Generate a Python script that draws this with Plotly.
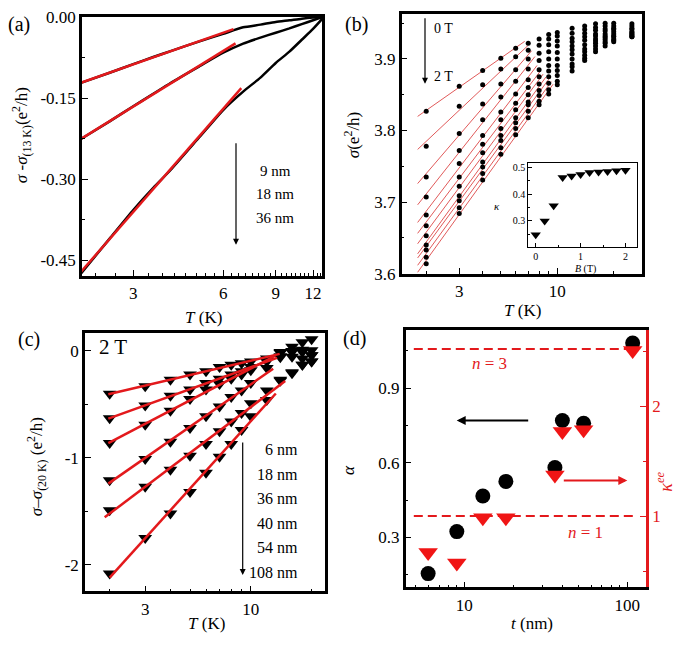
import numpy as np
import plotly.graph_objects as go

FONT = "Liberation Serif, Times New Roman, serif"
RED = "#e3191c"
W, H = 685, 647

# ---------------- Panel (a) ----------------
a_T = [2, 2.5, 3, 3.5, 4, 5, 6, 7, 8, 9, 10, 11, 12, 12.9]
a_9nm = [-0.122, -0.103, -0.087, -0.074, -0.063, -0.045, -0.031, -0.019, -0.014, -0.009, -0.006, -0.003, -0.001, 0.0]
a_18nm = [-0.226, -0.193, -0.165, -0.142, -0.122, -0.091, -0.066, -0.049, -0.038, -0.029, -0.021, -0.013, -0.006, 0.0]
a_36nm = [-0.475, -0.410, -0.357, -0.316, -0.283, -0.222, -0.172, -0.138, -0.112, -0.085, -0.064, -0.042, -0.022, -0.003]
a_labels = ["9 nm", "18 nm", "36 nm"]
a_fit_max = 5
a_line_end = [6.5, 6.6, 6.9]
a_xticks = [3, 6, 9, 12]
a_yticks = [0.0, -0.15, -0.30, -0.45]

# ---------------- Panel (b) ----------------
b_T = [2, 3, 4, 5, 6, 7, 8, 9, 10, 12, 14, 16, 18, 20, 25]
b_B = [0.0, 0.2, 0.4, 0.6, 0.8, 1.0, 1.2, 1.4, 1.6, 1.8, 2.0]
# rows: temperature columns; entries: field 0 T -> 2 T
b_sigma = [
    [3.827, 3.778, 3.735, 3.707, 3.682, 3.667, 3.653, 3.640, 3.633, 3.623, 3.614],
    [3.862, 3.834, 3.796, 3.772, 3.754, 3.735, 3.722, 3.709, 3.702, 3.692, 3.684],
    [3.884, 3.864, 3.837, 3.815, 3.793, 3.781, 3.769, 3.756, 3.749, 3.740, 3.731],
    [3.901, 3.886, 3.865, 3.847, 3.826, 3.815, 3.803, 3.793, 3.786, 3.776, 3.767],
    [3.915, 3.903, 3.885, 3.869, 3.851, 3.838, 3.829, 3.818, 3.811, 3.803, 3.794],
    [3.922, 3.912, 3.900, 3.886, 3.871, 3.860, 3.850, 3.840, 3.836, 3.827, 3.818],
    [3.928, 3.919, 3.908, 3.898, 3.885, 3.875, 3.865, 3.856, 3.849, 3.841, 3.836],
    [3.934, 3.928, 3.920, 3.910, 3.900, 3.891, 3.883, 3.875, 3.866, 3.857, 3.851],
    [3.937, 3.932, 3.925, 3.918, 3.909, 3.900, 3.891, 3.884, 3.877, 3.869, 3.864],
    [3.943, 3.936, 3.929, 3.924, 3.918, 3.913, 3.907, 3.900, 3.893, 3.889, 3.883],
    [3.946, 3.941, 3.936, 3.931, 3.926, 3.920, 3.914, 3.910, 3.905, 3.901, 3.898],
    [3.949, 3.944, 3.940, 3.935, 3.932, 3.928, 3.925, 3.922, 3.918, 3.914, 3.910],
    [3.950, 3.946, 3.942, 3.939, 3.935, 3.932, 3.930, 3.927, 3.924, 3.922, 3.918],
    [3.950, 3.946, 3.943, 3.941, 3.938, 3.935, 3.932, 3.931, 3.928, 3.926, 3.924],
    [3.949, 3.946, 3.943, 3.941, 3.938, 3.937, 3.935, 3.934, 3.932, 3.931, 3.931],
]
b_line_start = 1.8
b_line_end = [6.7, 7.0, 7.3, 7.6, 7.8, 8.1, 8.4, 8.7, 9.0, 9.3, 9.5]
b_kappa = [0.248, 0.300, 0.357, 0.462, 0.468, 0.474, 0.481, 0.483, 0.485, 0.488, 0.490]

# ---------------- Panel (c) ----------------
c_T = [2, 3, 4, 5, 6, 7, 8, 9, 10, 12, 14, 16, 18, 20]
c_labels = ["6 nm", "18 nm", "36 nm", "40 nm", "54 nm", "108 nm"]
c_6nm = [-0.40, -0.33, -0.27, -0.22, -0.19, -0.15, -0.13, -0.115, -0.10, -0.07, -0.01, 0.04, 0.08, 0.11]
c_18nm = [-0.63, -0.51, -0.42, -0.36, -0.30, -0.26, -0.22, -0.19, -0.15, -0.09, -0.02, 0.00, 0.01, 0.005]
c_36nm = [-0.86, -0.69, -0.56, -0.45, -0.36, -0.31, -0.26, -0.22, -0.18, -0.10, -0.05, -0.01, -0.01, -0.04]
c_40nm = [-1.21, -1.01, -0.85, -0.72, -0.61, -0.52, -0.43, -0.37, -0.30, -0.16, -0.06, -0.055, -0.07, -0.04]
c_54nm = [-1.49, -1.27, -1.11, -0.98, -0.87, -0.75, -0.66, -0.58, -0.49, -0.37, -0.27, -0.20, -0.13, -0.10]
c_108nm = [-2.08, -1.75, -1.52, -1.32, -1.14, -0.99, -0.87, -0.74, -0.61, -0.46, -0.28, -0.21, -0.13, -0.10]
c_fit_max = 10
c_line_start = [1.97, 1.97, 1.97, 1.97, 1.89, 2.0]
c_line_end = [13.9, 13.5, 13.2, 12.9, 14.8, 13.3]

# ---------------- Panel (d) ----------------
d_t = [6, 9, 13, 18, 36, 40, 54, 108]
d_alpha = [0.154, 0.323, 0.466, 0.525, 0.581, 0.770, 0.759, 1.082]
d_kappa_ee = [0.668, 0.574, 0.985, 0.985, 1.374, 1.770, 1.785, 2.506]
d_ref_levels = [1.0, 2.52]
d_ref_span = [4.9, 116]


def px(x):
    return x / W


def py(y):
    return 1 - y / H


def logfit(T, y, tmax):
    T = np.asarray(T, float)
    y = np.asarray(y, float)
    m = T <= tmax
    k, b = np.polyfit(np.log(T[m]), y[m], 1)
    return k, b


def fit_line(T, y, tmax, t0, t1):
    k, b = logfit(T, y, tmax)
    tt = np.geomspace(t0, t1, 30)
    return tt, k * np.log(tt) + b


fig = go.Figure()

# (a)
for ys in [a_9nm, a_18nm, a_36nm]:
    fig.add_trace(go.Scatter(x=a_T, y=ys, mode="lines", line=dict(color="black", width=2.5, shape="spline", smoothing=0.6),
                             xaxis="x", yaxis="y", showlegend=False))
for ys, tend in zip([a_9nm, a_18nm, a_36nm], a_line_end):
    tt, ff = fit_line(a_T, ys, a_fit_max, a_T[0], tend)
    fig.add_trace(go.Scatter(x=tt, y=ff, mode="lines", line=dict(color=RED, width=2.5),
                             xaxis="x", yaxis="y", showlegend=False))

# (b)
b_arr = np.array(b_sigma)
for j, B in enumerate(b_B):
    tt, ff = fit_line(b_T, b_arr[:, j], b_line_end[j], b_line_start, b_line_end[j])
    fig.add_trace(go.Scatter(x=tt, y=ff, mode="lines", line=dict(color="#e05a5a", width=1),
                             xaxis="x2", yaxis="y2", showlegend=False))
for j, B in enumerate(b_B):
    fig.add_trace(go.Scatter(x=b_T, y=b_arr[:, j], mode="markers",
                             marker=dict(color="black", size=5, symbol="circle"),
                             xaxis="x2", yaxis="y2", showlegend=False))
fig.add_trace(go.Scatter(x=b_B, y=b_kappa, mode="markers",
                         marker=dict(color="black", size=9, symbol="triangle-down"),
                         xaxis="x3", yaxis="y3", showlegend=False))

# (c)
c_series = [c_6nm, c_18nm, c_36nm, c_40nm, c_54nm, c_108nm]
for ys in c_series:
    fig.add_trace(go.Scatter(x=c_T, y=ys, mode="markers",
                             marker=dict(color="black", size=12, symbol="triangle-down"),
                             xaxis="x4", yaxis="y4", showlegend=False))
for ys, t0, t1 in zip(c_series, c_line_start, c_line_end):
    tt, ff = fit_line(c_T, ys, c_fit_max, t0, t1)
    fig.add_trace(go.Scatter(x=tt, y=ff, mode="lines", line=dict(color=RED, width=2.5),
                             xaxis="x4", yaxis="y4", showlegend=False))

# (d)
for lev in d_ref_levels:
    fig.add_trace(go.Scatter(x=d_ref_span, y=[lev, lev], mode="lines",
                             line=dict(color=RED, width=2, dash="9px,5px"),
                             xaxis="x5", yaxis="y6", showlegend=False))
fig.add_trace(go.Scatter(x=d_t, y=d_kappa_ee, mode="markers",
                         marker=dict(color="#f01515", size=17, symbol="triangle-down"),
                         xaxis="x5", yaxis="y6", showlegend=False))
fig.add_trace(go.Scatter(x=d_t, y=d_alpha, mode="markers",
                         marker=dict(color="black", size=15, symbol="circle"),
                         xaxis="x5", yaxis="y5", showlegend=False))


def ax(domain, rng, anchor, tickvals=None, ticktext=None, minor_vals=None, minor_dtick=None,
       log=False, size=17, lw=2.5, mirror=True, color="black", side=None, ticklen=6):
    d = dict(domain=domain, range=rng, anchor=anchor, showline=True, linewidth=lw,
             linecolor=color, mirror=mirror, ticks="inside", ticklen=ticklen, tickwidth=1.3,
             tickcolor=color, showgrid=False, zeroline=False,
             tickfont=dict(family=FONT, size=size, color=color))
    if log:
        d["type"] = "log"
    if tickvals is not None:
        d["tickmode"] = "array"
        d["tickvals"] = tickvals
        if ticktext is not None:
            d["ticktext"] = ticktext
    minor = dict(ticks="inside", ticklen=max(2, ticklen // 2), tickwidth=1, tickcolor=color)
    if minor_vals is not None:
        minor["tickmode"] = "array"
        minor["tickvals"] = minor_vals
        d["minor"] = minor
    elif minor_dtick is not None:
        minor["dtick"] = minor_dtick
        d["minor"] = minor
    if side:
        d["side"] = side
    return d


a_minor_x = [round(0.375 * k, 3) for k in range(6, 35) if round(0.375 * k, 3) not in a_xticks]
log_minor = [2, 4, 5, 6, 7, 8, 9, 20]
d_minor = [5, 6, 7, 8, 9, 20, 30, 40, 50, 60, 70, 80, 90]

layout = dict(
    width=W, height=H, margin=dict(l=0, r=0, t=0, b=0),
    paper_bgcolor="white", plot_bgcolor="white",
    font=dict(family=FONT, size=16, color="black"),
    xaxis=ax([px(82), px(322)], [np.log10(2.02), np.log10(12.86)], "y", tickvals=a_xticks,
             minor_vals=a_minor_x, log=True),
    yaxis=ax([py(275), py(8.3)], [-0.479, 0.0], "x", tickvals=a_yticks,
             ticktext=[f"{v:.2f}".replace("-0.00", "0.00") for v in a_yticks],
             minor_dtick=0.075),
    xaxis2=ax([px(401.7), px(641.7)], [np.log10(1.48), np.log10(28.2)], "y2", tickvals=[3, 10],
              minor_vals=log_minor, log=True),
    yaxis2=ax([py(272.7), py(5)], [3.6, 3.963], "x2", tickvals=[3.6, 3.7, 3.8, 3.9],
              minor_dtick=0.05),
    xaxis3=ax([px(528.3), px(636.7)], [-0.165, 2.25], "y3", tickvals=[0, 1, 2], size=10, lw=1,
              ticklen=4, minor_dtick=0.5),
    yaxis3=ax([py(245), py(158.3)], [0.203, 0.518], "x3", tickvals=[0.3, 0.4, 0.5], size=10, lw=1,
              ticklen=4, minor_dtick=0.05),
    xaxis4=ax([px(85), px(325)], [np.log10(1.51), np.log10(23.3)], "y4", tickvals=[3, 10],
              minor_vals=log_minor, log=True),
    yaxis4=ax([py(600), py(333.3)], [-2.248, 0.172], "x4", tickvals=[-2, -1, 0],
              ticktext=["-2", "-1", "0"], minor_dtick=0.5),
    xaxis5=ax([px(405.7), px(646)], [np.log10(4.37), np.log10(130.4)], "y5", tickvals=[10, 100],
              minor_vals=d_minor, log=True),
    yaxis5=ax([py(596), py(331)], [0.098, 1.133], "x5", tickvals=[0.3, 0.6, 0.9], mirror=False,
              minor_dtick=0.15),
    yaxis6=ax([py(596), py(331)], [0.35, 2.69], "x5", tickvals=[1, 2], color=RED, side="right",
              minor_dtick=0.5),
)
layout["yaxis6"]["overlaying"] = "y5"
layout["yaxis6"]["mirror"] = False
fig.update_layout(**layout)

ann = []


def txt(x, y, s, size=17, color="black", angle=0, xanchor="center", yanchor="middle"):
    ann.append(dict(x=px(x), y=py(y), xref="paper", yref="paper", text=s, showarrow=False,
                    font=dict(family=FONT, size=size, color=color), textangle=angle,
                    xanchor=xanchor, yanchor=yanchor))


def arrow(x, y, axp, ayp, color="black", width=1.2, head=2, size=1.0):
    ann.append(dict(x=px(x), y=py(y), xref="paper", yref="paper", text="", showarrow=True,
                    ax=axp, ay=ayp, arrowhead=head, arrowsize=size, arrowwidth=width,
                    arrowcolor=color))


# panel labels
txt(19, 16, "(a)", size=20)
txt(356, 16, "(b)", size=20)
txt(29, 340, "(c)", size=20)
txt(354, 339, "(d)", size=20)

# axis titles
txt(21, 130, "<i>σ</i> -<i>σ</i><sub>(13 K)</sub>(e<sup>2</sup>/h)", angle=-90)
txt(203, 318, "<i>T</i> (K)")
txt(352, 130, "<i>σ</i>(e<sup>2</sup>/h)", angle=-90)
txt(522, 311, "<i>T</i> (K)")
txt(36, 472, "<i>σ</i>–<i>σ</i><sub>(20 K)</sub> (e<sup>2</sup>/h)", angle=-90)
txt(206, 633, "<i>T</i> (K)")
txt(348, 475, "<i>α</i>", angle=-90)
txt(665, 487, "<i>κ</i><sup><i>ee</i></sup>", size=18, angle=-90, color=RED)
txt(532, 633, "<i>t</i> (nm)")

# (a) legend texts + arrow
for i, s in enumerate(a_labels):
    txt(275, 167 + 24 * i, s, size=15)
arrow(236, 243, 0, -103)

# (b) texts + arrow
txt(432, 20, "0 T", size=14, xanchor="left")
txt(432, 70, "2 T", size=14, xanchor="left")
arrow(425, 77, 0, -67)
txt(497, 203, "<i>κ</i>", size=11)
txt(585, 268, "<i>B</i> (T)", size=10)

# (c) texts + arrow
txt(113, 348, "2 T", size=21)
for i, s in enumerate(c_labels):
    txt(300, 454 + 25.3 * i, s, size=16, xanchor="right")
arrow(242.7, 583, 0, -134)

# (d) texts + arrows
txt(489, 365, "<i>n</i> = 3", size=17, color=RED)
txt(585, 539, "<i>n</i> = 1", size=17, color=RED)
arrow(456.7, 424, 73, 0, width=2, head=2, size=0.9)
arrow(627.3, 485.7, -65, 0, color=RED, width=2, head=2, size=0.9)

fig.update_layout(annotations=ann)
fig.write_html("out.html", config={"displayModeBar": False},
               post_script="document.body.style.margin='0';document.body.style.overflow='hidden';")
